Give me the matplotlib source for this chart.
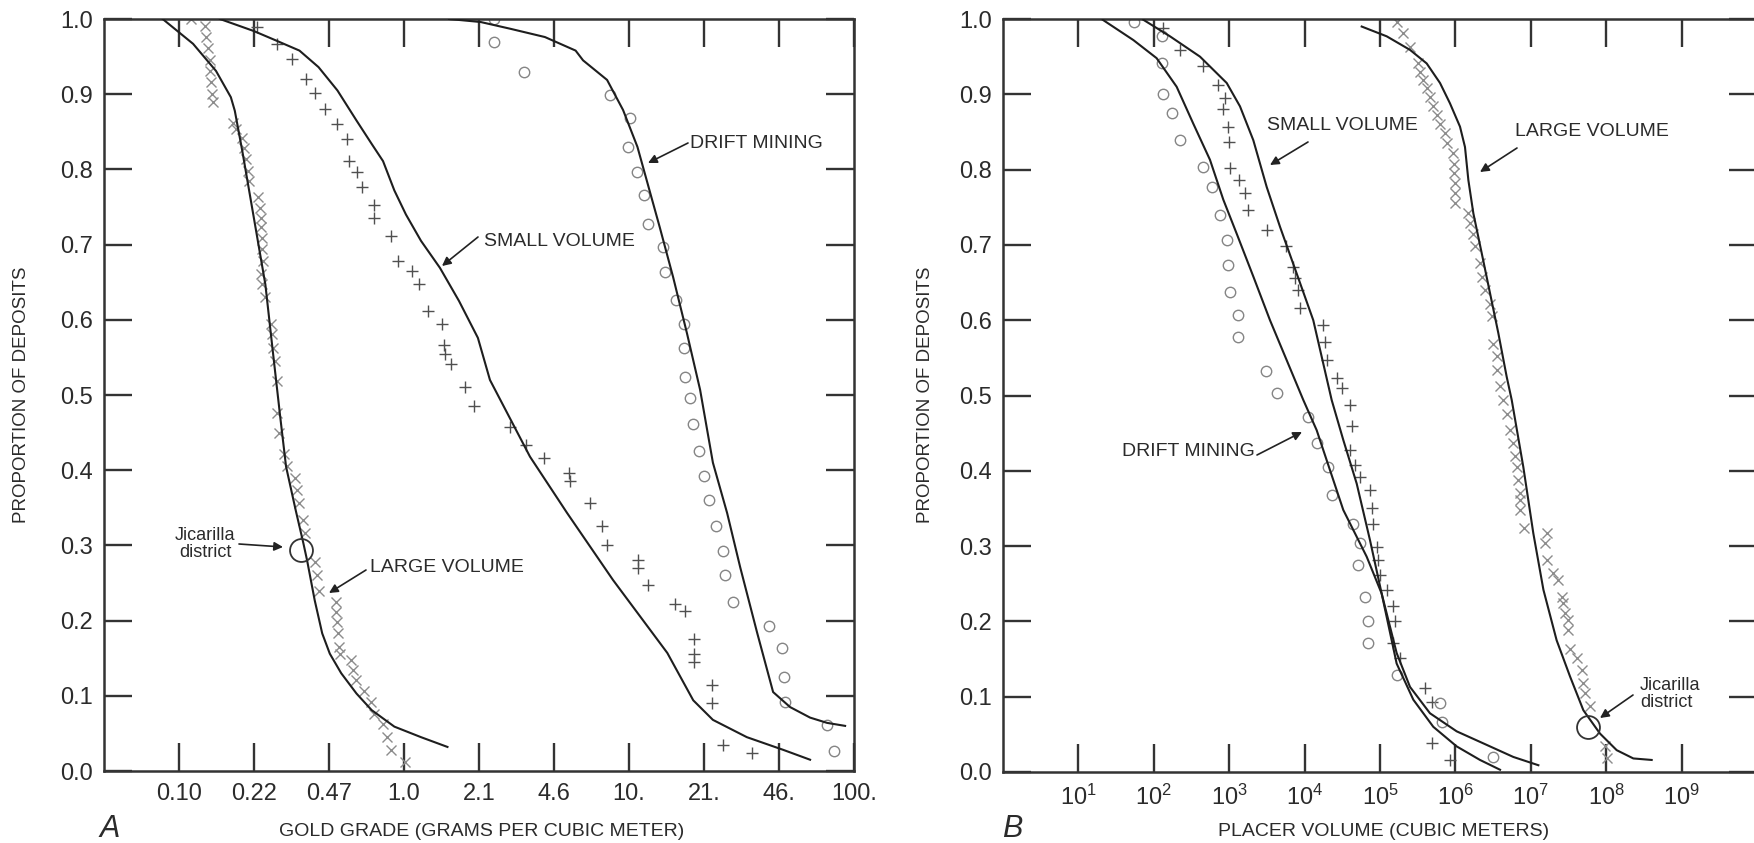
import matplotlib
matplotlib.use('Agg')
import matplotlib.pyplot as plt

plt.rcParams['font.family'] = ['Liberation Sans', 'DejaVu Sans']
plt.rcParams['mathtext.fontset'] = 'custom'
plt.rcParams['mathtext.rm'] = 'Liberation Sans'
plt.rcParams['mathtext.it'] = 'Liberation Sans:italic'
plt.rcParams['mathtext.bf'] = 'Liberation Sans:bold'

# ---------------- Panel A : gold grade (g / m^3) ----------------
a_tick_vals = [0.1, 0.215, 0.464, 1.0, 2.15, 4.64, 10.0, 21.5, 46.4, 100.0]
a_tick_labels = ["0.10", "0.22", "0.47", "1.0", "2.1", "4.6", "10.", "21.", "46.", "100."]
y_tick_vals = [0.0, 0.1, 0.2, 0.3, 0.4, 0.5, 0.6, 0.7, 0.8, 0.9, 1.0]
y_tick_labels = ["0.0", "0.1", "0.2", "0.3", "0.4", "0.5", "0.6", "0.7", "0.8", "0.9", "1.0"]

a_large_line = [(0.0846, 1.0), (0.1155, 0.967), (0.146, 0.931), (0.170, 0.896), (0.177, 0.878),
                (0.191, 0.825), (0.215, 0.736), (0.242, 0.647), (0.261, 0.559), (0.282, 0.470),
                (0.299, 0.405), (0.330, 0.347), (0.357, 0.303), (0.371, 0.280), (0.401, 0.227),
                (0.433, 0.183), (0.468, 0.156), (0.526, 0.130), (0.615, 0.103), (0.718, 0.081),
                (0.906, 0.059), (1.19, 0.045), (1.56, 0.032)]
a_large_pts = [(0.113, 1.0), (0.130, 0.991), (0.132, 0.976), (0.135, 0.962), (0.138, 0.945),
               (0.138, 0.931), (0.139, 0.916), (0.140, 0.900), (0.141, 0.889), (0.174, 0.862),
               (0.179, 0.854), (0.191, 0.842), (0.195, 0.829), (0.199, 0.814), (0.203, 0.798),
               (0.205, 0.785), (0.224, 0.763), (0.228, 0.749), (0.231, 0.736), (0.232, 0.723),
               (0.234, 0.709), (0.235, 0.694), (0.236, 0.678), (0.232, 0.661), (0.234, 0.647),
               (0.240, 0.630), (0.256, 0.594), (0.259, 0.581), (0.263, 0.563), (0.267, 0.545),
               (0.272, 0.519), (0.274, 0.476), (0.279, 0.449), (0.294, 0.422), (0.303, 0.405),
               (0.327, 0.389), (0.336, 0.374), (0.343, 0.356), (0.354, 0.334), (0.364, 0.316),
               (0.401, 0.278), (0.409, 0.260), (0.417, 0.240), (0.497, 0.225), (0.500, 0.212),
               (0.504, 0.198), (0.508, 0.183), (0.514, 0.165), (0.520, 0.156), (0.580, 0.147),
               (0.591, 0.134), (0.615, 0.121), (0.664, 0.107), (0.713, 0.092), (0.732, 0.076),
               (0.807, 0.063), (0.840, 0.045), (0.879, 0.028), (1.01, 0.012)]

a_small_line = [(0.152, 1.0), (0.215, 0.984), (0.272, 0.971), (0.343, 0.958), (0.417, 0.936),
                (0.506, 0.905), (0.615, 0.865), (0.718, 0.834), (0.807, 0.811), (0.906, 0.772),
                (1.02, 0.740), (1.19, 0.705), (1.445, 0.669), (1.756, 0.625), (2.13, 0.576),
                (2.41, 0.520), (3.63, 0.418), (5.31, 0.343), (8.49, 0.254), (14.8, 0.157),
                (19.3, 0.094), (23.6, 0.068), (33.4, 0.045), (48.6, 0.028), (63.8, 0.015)]
a_small_pts = [(0.222, 0.990), (0.272, 0.967), (0.317, 0.947), (0.368, 0.920), (0.401, 0.902),
               (0.447, 0.880), (0.502, 0.860), (0.557, 0.840), (0.569, 0.811), (0.620, 0.796),
               (0.651, 0.776), (0.732, 0.753), (0.732, 0.736), (0.879, 0.712), (0.943, 0.678),
               (1.08, 0.665), (1.167, 0.647), (1.276, 0.612), (1.474, 0.594), (1.503, 0.567),
               (1.514, 0.554), (1.624, 0.541), (1.862, 0.510), (2.05, 0.485), (2.97, 0.458),
               (3.47, 0.433), (4.21, 0.416), (5.42, 0.396), (5.47, 0.385), (6.72, 0.356),
               (7.56, 0.326), (7.96, 0.300), (11.0, 0.281), (11.0, 0.270), (12.2, 0.247),
               (16.0, 0.222), (17.7, 0.213), (19.5, 0.175), (19.5, 0.156), (19.5, 0.145),
               (23.4, 0.114), (23.4, 0.090), (26.3, 0.035), (35.1, 0.024)]

a_drift_line = [(1.585, 1.0), (2.19, 0.996), (2.97, 0.987), (4.23, 0.976), (5.79, 0.958),
                (6.25, 0.945), (7.99, 0.919), (9.41, 0.879), (10.9, 0.830), (12.0, 0.785),
                (13.7, 0.723), (15.7, 0.657), (18.1, 0.582), (20.7, 0.507), (23.6, 0.410),
                (27.3, 0.343), (31.2, 0.271), (37.1, 0.184), (43.7, 0.105), (52.0, 0.085),
                (63.8, 0.071), (75.9, 0.064), (91.3, 0.060)]
a_drift_pts = [(2.50, 1.0), (2.50, 0.969), (3.41, 0.929), (8.24, 0.899), (10.1, 0.868),
               (9.93, 0.830), (10.8, 0.797), (11.6, 0.766), (12.2, 0.728), (14.2, 0.697),
               (14.5, 0.664), (16.2, 0.626), (17.5, 0.595), (17.5, 0.562), (17.7, 0.524),
               (18.7, 0.496), (19.3, 0.462), (20.5, 0.425), (21.5, 0.392), (22.7, 0.361),
               (24.3, 0.326), (26.1, 0.293), (26.7, 0.261), (28.9, 0.225), (42.1, 0.193),
               (48.1, 0.163), (49.1, 0.125), (49.5, 0.092), (76.2, 0.061), (81.5, 0.026)]
a_jicarilla = (0.350, 0.294)

# ---------------- Panel B : placer volume (m^3) ----------------
b_tick_vals = [1e1, 1e2, 1e3, 1e4, 1e5, 1e6, 1e7, 1e8, 1e9]
b_tick_labels = [r"$\mathregular{10^{%d}}$" % k for k in range(1, 10)]

b_drift_line = [(21.0, 0.999), (53.6, 0.972), (109, 0.948), (201, 0.910), (334, 0.861),
                (556, 0.813), (836, 0.760), (1256, 0.715), (2089, 0.658), (3475, 0.600),
                (5781, 0.547), (9616, 0.494), (14450, 0.454), (32580, 0.348), (66530, 0.286),
                (1.052e5, 0.237), (1.663e5, 0.158), (2.50e5, 0.113), (4.60e5, 0.078),
                (1.04e6, 0.054), (2.60e6, 0.036), (5.86e6, 0.020), (1.26e7, 0.009)]
b_drift_pts = [(54.6, 0.996), (127, 0.977), (127, 0.941), (134, 0.901), (173, 0.875),
               (222, 0.839), (454, 0.804), (585, 0.777), (755, 0.740), (927, 0.707),
               (955, 0.673), (1026, 0.638), (1321, 0.607), (1321, 0.578), (3076, 0.533),
               (4266, 0.503), (11190, 0.472), (14450, 0.437), (20650, 0.405), (22860, 0.368),
               (44260, 0.330), (54330, 0.304), (51640, 0.275), (63240, 0.233), (69980, 0.200),
               (69980, 0.171), (1.66e5, 0.129), (6.25e5, 0.091), (6.58e5, 0.067), (3.18e6, 0.020)]

b_small_line = [(72.6, 0.999), (164, 0.977), (410, 0.950), (927, 0.915), (1390, 0.884),
                (2089, 0.839), (3141, 0.777), (4721, 0.724), (7852, 0.662), (13030, 0.600),
                (22860, 0.494), (32580, 0.441), (49090, 0.383), (73620, 0.308), (1.052e5, 0.237),
                (1.663e5, 0.144), (2.767e5, 0.096), (5.093e5, 0.060), (1.04e6, 0.034),
                (2.12e6, 0.016), (3.91e6, 0.003)]
b_small_pts = [(134, 0.988), (222, 0.959), (454, 0.937), (718, 0.912), (879, 0.895),
               (836, 0.881), (975, 0.857), (1005, 0.837), (1026, 0.802), (1361, 0.786),
               (1622, 0.769), (1795, 0.746), (3141, 0.720), (5662, 0.698), (7079, 0.671),
               (7464, 0.656), (8260, 0.640), (8690, 0.616), (17700, 0.594), (18660, 0.571),
               (19630, 0.547), (26670, 0.523), (31050, 0.510), (39990, 0.487), (42170, 0.459),
               (39990, 0.428), (46560, 0.408), (54330, 0.392), (73620, 0.375), (77620, 0.350),
               (81660, 0.330), (90360, 0.299), (95060, 0.282), (1.0e5, 0.262), (1.227e5, 0.242),
               (1.503e5, 0.220), (1.581e5, 0.200), (1.503e5, 0.171), (1.841e5, 0.151),
               (3.954e5, 0.111), (4.853e5, 0.093), (4.853e5, 0.038), (8.472e5, 0.016)]

b_large_line = [(57150, 0.990), (1.227e5, 0.977), (2.50e5, 0.959), (4.159e5, 0.941),
                (6.252e5, 0.915), (8.472e5, 0.888), (1.151e6, 0.857), (1.34e6, 0.830),
                (1.486e6, 0.786), (1.73e6, 0.742), (2.234e6, 0.689), (2.877e6, 0.636),
                (3.707e6, 0.583), (4.786e6, 0.525), (5.585e6, 0.494), (7.96e6, 0.405),
                (1.08e7, 0.317), (1.47e7, 0.242), (2.20e7, 0.175), (3.31e7, 0.127),
                (4.98e7, 0.082), (8.28e7, 0.051), (1.377e8, 0.029), (2.29e8, 0.018),
                (4.01e8, 0.016)]
b_large_pts = [(1.66e5, 0.996), (2.04e5, 0.981), (2.50e5, 0.963), (3.22e5, 0.941), (3.40e5, 0.930),
               (3.76e5, 0.919), (4.16e5, 0.908), (4.60e5, 0.897), (5.09e5, 0.884), (5.65e5, 0.873),
               (6.25e5, 0.861), (7.28e5, 0.848), (7.66e5, 0.835), (9.38e5, 0.822), (9.57e5, 0.808),
               (9.57e5, 0.795), (9.89e5, 0.782), (9.89e5, 0.769), (9.89e5, 0.755), (1.49e6, 0.742),
               (1.56e6, 0.729), (1.73e6, 0.715), (1.82e6, 0.698), (2.12e6, 0.676), (2.23e6, 0.658),
               (2.47e6, 0.640), (2.88e6, 0.622), (3.03e6, 0.605), (3.18e6, 0.569), (3.52e6, 0.552),
               (3.52e6, 0.534), (3.91e6, 0.512), (4.33e6, 0.494), (4.79e6, 0.476), (5.30e6, 0.454),
               (5.86e6, 0.437), (6.17e6, 0.419), (6.50e6, 0.405), (6.84e6, 0.388), (7.19e6, 0.370),
               (7.19e6, 0.361), (7.19e6, 0.348), (8.13e6, 0.324), (1.63e7, 0.317), (1.54e7, 0.304),
               (1.63e7, 0.282), (1.99e7, 0.264), (2.32e7, 0.255), (2.56e7, 0.233), (2.70e7, 0.224),
               (2.84e7, 0.211), (3.15e7, 0.202), (3.15e7, 0.189), (3.31e7, 0.164), (4.06e7, 0.151),
               (4.73e7, 0.135), (4.88e7, 0.118), (5.24e7, 0.105), (6.10e7, 0.087), (9.64e7, 0.034),
               (1.01e8, 0.018)]
b_jicarilla = (5.8e7, 0.060)

# ---------------- styling ----------------
W, H = 1754, 843
TXT = '#2b2b2b'
LINE = '#1e1e1e'
XCOL = '#8c8c8c'
OCOL = '#858585'
PCOL = '#505050'

fig = plt.figure(figsize=(W / 100, H / 100), dpi=100)
fig.patch.set_facecolor('white')


def fx(x):
    return x / W


def fy(y):
    return (H - y) / H


axA = fig.add_axes([fx(104), fy(771), 750 / W, 752 / H])
axB = fig.add_axes([fx(1003), fy(772), 754 / W, 753 / H])


def xy(pairs):
    return [p[0] for p in pairs], [p[1] for p in pairs]


def style(ax, xlim, ticks, labels):
    ax.set_xscale('log')
    ax.set_xlim(*xlim)
    ax.set_ylim(0, 1)
    ax.set_xticks(ticks)
    ax.set_xticklabels(labels)
    ax.minorticks_off()
    ax.set_yticks(y_tick_vals)
    ax.set_yticklabels(y_tick_labels)
    for s in ax.spines.values():
        s.set_color('#333333')
        s.set_linewidth(1.8)
    ax.tick_params(axis='both', which='major', direction='in', length=20, width=1.7,
                   color='#333333', labelsize=17, labelcolor=TXT,
                   top=True, right=True, labeltop=False, labelright=False)
    ax.tick_params(axis='x', pad=9.0)
    ax.tick_params(axis='y', pad=8.0)


style(axA, (10 ** (-4 / 3), 100.0), a_tick_vals, a_tick_labels)
style(axB, (1.0, 1e10), b_tick_vals, b_tick_labels)


def draw(ax, line, pts, marker):
    lx, ly = xy(line)
    ax.plot(lx, ly, color=LINE, lw=1.5, zorder=3)
    px, py = xy(pts)
    if marker == 'x':
        ax.plot(px, py, ls='none', marker='x', ms=7, mew=1.0, color=XCOL, zorder=2)
    elif marker == '+':
        ax.plot(px, py, ls='none', marker='+', ms=9, mew=1.0, color=PCOL, zorder=2)
    else:
        ax.plot(px, py, ls='none', marker='o', ms=7.5, mew=1.0, mfc='none', mec=OCOL, zorder=2)


draw(axA, a_large_line, a_large_pts, 'x')
draw(axA, a_small_line, a_small_pts, '+')
draw(axA, a_drift_line, a_drift_pts, 'o')
axA.plot([a_jicarilla[0]], [a_jicarilla[1]], ls='none', marker='o', ms=16.5, mew=1.3,
         mfc='none', mec='#333333', zorder=4)

draw(axB, b_large_line, b_large_pts, 'x')
draw(axB, b_small_line, b_small_pts, '+')
draw(axB, b_drift_line, b_drift_pts, 'o')
axB.plot([b_jicarilla[0]], [b_jicarilla[1]], ls='none', marker='o', ms=16.5, mew=1.3,
         mfc='none', mec='#333333', zorder=4)


def arrow(tail, tip):
    fig.add_artist(matplotlib.patches.FancyArrowPatch(
        (fx(tail[0]), fy(tail[1])), (fx(tip[0]), fy(tip[1])),
        transform=fig.transFigure, arrowstyle='-|>', mutation_scale=13,
        color='#222222', lw=1.2, shrinkA=0, shrinkB=0))


def label(x, y, s, ha='left', size=14, **kw):
    fig.text(fx(x), fy(y), s, ha=ha, va='center', fontsize=size, color=TXT, **kw)


# Panel A annotations
label(205, 544, "Jicarilla\ndistrict", ha='center', size=13, linespacing=1.05)
arrow((239, 544), (283, 547))
label(370, 567, "LARGE VOLUME")
arrow((366, 570), (329, 593))
label(484, 241, "SMALL VOLUME")
arrow((478, 237), (442, 266))
label(690, 143, "DRIFT MINING")
arrow((688, 143), (648, 163))

# Panel B annotations
label(1267, 126, "SMALL VOLUME")
arrow((1308, 142), (1270, 165))
label(1515, 132, "LARGE VOLUME")
arrow((1517, 148), (1480, 172))
label(1255, 452, "DRIFT MINING", ha='right')
arrow((1257, 455), (1302, 432))
label(1640, 694, "Jicarilla\ndistrict", size=13, linespacing=1.05)
arrow((1633, 695), (1600, 718))

# axis titles
fig.text(fx(22), fy(395), "PROPORTION OF DEPOSITS", rotation=90, ha='center', va='center',
         fontsize=13.5, color=TXT)
fig.text(fx(926), fy(395), "PROPORTION OF DEPOSITS", rotation=90, ha='center', va='center',
         fontsize=13.5, color=TXT)
fig.text(fx(482), fy(831), "GOLD GRADE (GRAMS PER CUBIC METER)", ha='center', va='center',
         fontsize=14, color=TXT)
fig.text(fx(1384), fy(831), "PLACER VOLUME (CUBIC METERS)", ha='center', va='center',
         fontsize=14, color=TXT)
fig.text(fx(100), fy(837), "A", ha='left', va='baseline', fontsize=22, style='italic', color=TXT)
fig.text(fx(1002), fy(837), "B", ha='left', va='baseline', fontsize=22, style='italic', color=TXT)

fig.savefig('out.png', dpi=100, facecolor='white')
